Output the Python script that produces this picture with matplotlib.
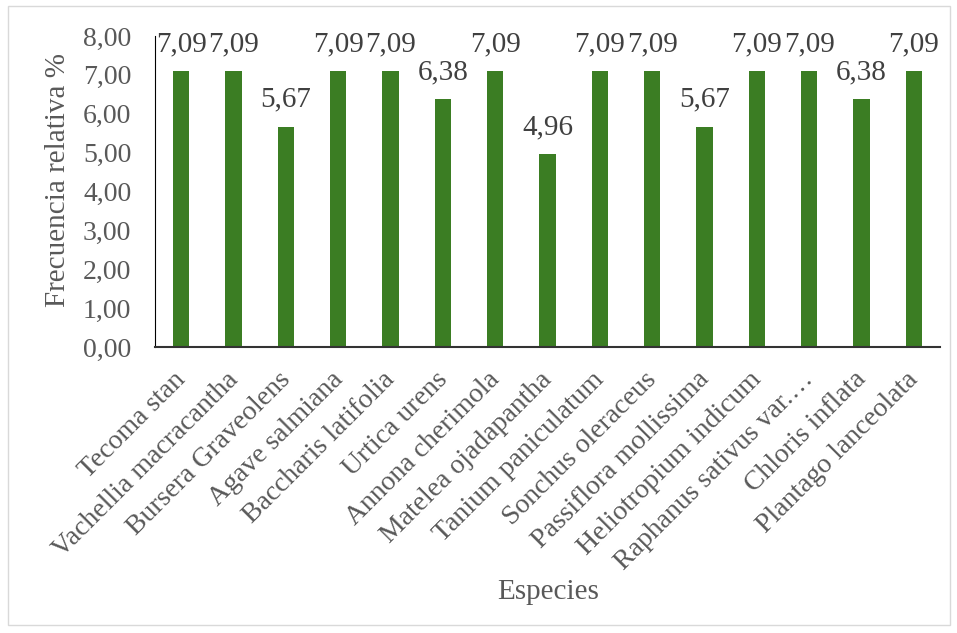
import matplotlib.pyplot as plt
import matplotlib.patches as patches
import matplotlib.transforms as mtransforms
import numpy as np

plt.rcParams['font.family'] = ['Liberation Serif', 'DejaVu Serif']

especies = ['Tecoma stan', 'Vachellia macracantha', 'Bursera Graveolens',
            'Agave salmiana', 'Baccharis latifolia', 'Urtica urens',
            'Annona cherimola', 'Matelea ojadapantha', 'Tanium paniculatum',
            'Sonchus oleraceus', 'Passiflora mollissima', 'Heliotropium indicum',
            'Raphanus sativus var.…', 'Chloris inflata', 'Plantago lanceolata']
frecuencia = [7.09, 7.09, 5.67, 7.09, 7.09, 6.38, 7.09, 4.96, 7.09, 7.09,
              5.67, 7.09, 7.09, 6.38, 7.09]
yticks = [0, 1, 2, 3, 4, 5, 6, 7, 8]

verde = '#3b7d23'
gris = '#595959'

fig = plt.figure(figsize=(9.57, 6.33), dpi=100)
ax = fig.add_axes([155/957, 1-347/633, 785/957, 311/633])

x = np.arange(len(especies))
bars = ax.bar(x, frecuencia, width=0.31, color=verde)
for xi, v in zip(x, frecuencia):
    ax.annotate(f'{v:.2f}'.replace('.', ','), (xi, v), xytext=(0, 10),
                textcoords='offset points', ha='center', va='bottom',
                fontsize=21, color='#404040')

ax.set_xlim(-0.5, len(especies) - 0.5)
ax.set_ylim(0, 8)
ax.set_yticks(yticks)
ax.set_yticklabels([f'{t:.2f}'.replace('.', ',') for t in yticks], fontsize=20, color=gris)
ax.set_xticks(x)
ax.set_xticklabels([])
# etiquetas giradas a mano: Excel deja el final del texto casi sobre la barra
desplaza = mtransforms.ScaledTranslation(-8/100, -20/100, fig.dpi_scale_trans)
for xi, nombre in zip(x, especies):
    ax.text(xi, 0, nombre, transform=ax.get_xaxis_transform() + desplaza,
            rotation=45, ha='right', va='top', rotation_mode='anchor',
            fontsize=20, color=gris)
ax.tick_params(axis='both', length=0)
ax.tick_params(axis='y', pad=17)
for s in ['top', 'right']:
    ax.spines[s].set_visible(False)
ax.spines['left'].set_color('black')
ax.spines['bottom'].set_color('#333333')
ax.spines['bottom'].set_linewidth(1.5)

fig.text(58/957, 1-180/633, 'Frecuencia relativa %', rotation=90, ha='center',
         va='center', fontsize=21, color=gris)
fig.text(548/957, 1-592/633, 'Especies', ha='center', va='center',
         fontsize=21, color=gris)

fig.patches.append(patches.Rectangle((8/957, 1-625/633), 942/957, 619/633,
                                     transform=fig.transFigure, fill=False,
                                     edgecolor='#d9d9d9', linewidth=1))

fig.savefig('out.png', dpi=100)
